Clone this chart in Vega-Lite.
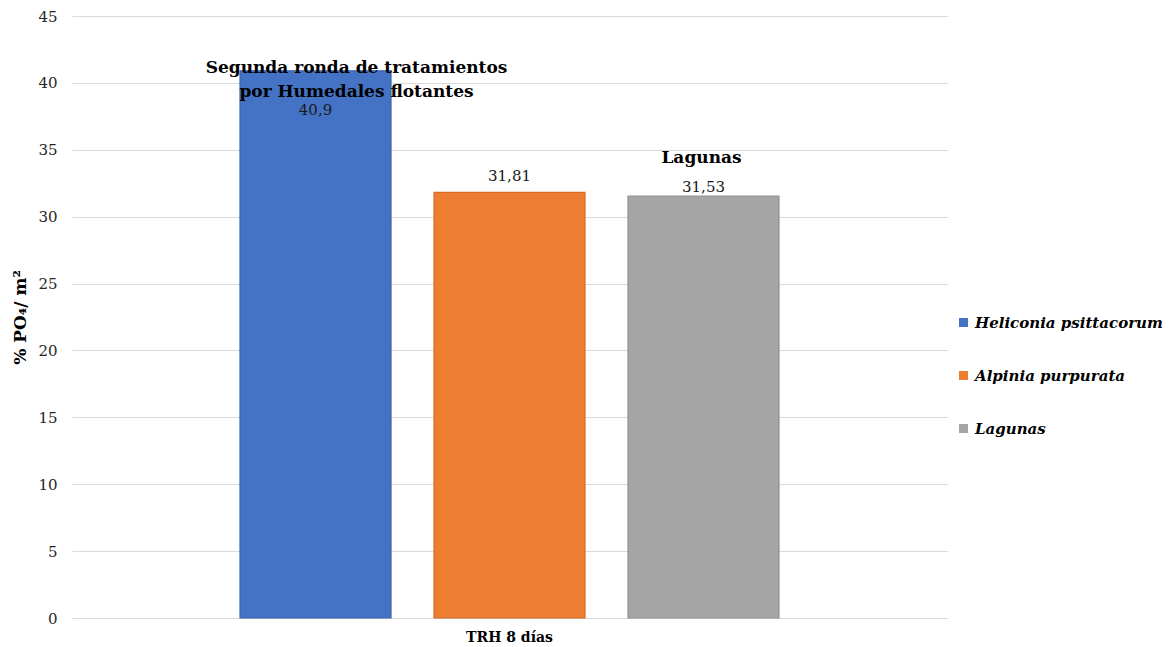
{
  "$schema": "https://vega.github.io/schema/vega-lite/v6.json",
  "width": 875,
  "height": 602,
  "autosize": {"type": "none"},
  "padding": {"left": 72, "top": 16, "right": 222, "bottom": 29},
  "background": "white",
  "config": {
    "font": "DejaVu Serif",
    "view": {"stroke": null},
    "locale": {"number": {"decimal": ",", "thousands": ".", "grouping": [3], "currency": ["", " €"]}}
  },
  "data": {
    "values": [
      {"trh": "TRH 8 días", "serie": "Heliconia psittacorum", "valor": 40.9, "nota": ["Segunda ronda de tratamientos", "por Humedales flotantes"]},
      {"trh": "TRH 8 días", "serie": "Alpinia purpurata", "valor": 31.81, "nota": null},
      {"trh": "TRH 8 días", "serie": "Lagunas", "valor": 31.53, "nota": "Lagunas"}
    ]
  },
  "encoding": {
    "x": {
      "field": "trh",
      "type": "nominal",
      "title": null,
      "scale": {"paddingInner": 0, "paddingOuter": 0},
      "axis": {
        "labelAngle": 0,
        "labelFont": "DejaVu Serif",
        "labelFontSize": 14,
        "labelFontWeight": "bold",
        "labelColor": "#000000",
        "labelPadding": 12,
        "ticks": false,
        "domainColor": "#d9d9d9"
      }
    },
    "xOffset": {
      "field": "serie",
      "type": "nominal",
      "sort": ["Heliconia psittacorum", "Alpinia purpurata", "Lagunas"],
      "scale": {"paddingInner": 0.2216, "paddingOuter": 0.866}
    },
    "y": {
      "field": "valor",
      "type": "quantitative",
      "title": "% PO₄/ m²",
      "scale": {"domain": [0, 45], "nice": false},
      "axis": {
        "values": [0, 5, 10, 15, 20, 25, 30, 35, 40, 45],
        "domain": false,
        "ticks": false,
        "gridColor": "#d9d9d9",
        "labelFont": "DejaVu Serif",
        "labelFontSize": 15,
        "labelColor": "#262626",
        "labelPadding": 15,
        "titleFont": "DejaVu Serif",
        "titleFontSize": 17,
        "titleFontWeight": "bold",
        "titleColor": "#000000",
        "titlePadding": 8
      }
    }
  },
  "layer": [
    {
      "mark": {"type": "bar", "strokeWidth": 1.2},
      "encoding": {
        "color": {
          "field": "serie",
          "type": "nominal",
          "sort": ["Heliconia psittacorum", "Alpinia purpurata", "Lagunas"],
          "scale": {
            "domain": ["Heliconia psittacorum", "Alpinia purpurata", "Lagunas"],
            "range": ["#4472C4", "#ED7D31", "#A5A5A5"]
          },
          "legend": {
            "title": null,
            "orient": "none",
            "legendX": 884,
            "legendY": 299,
            "symbolType": "square",
            "symbolSize": 81,
            "symbolStrokeWidth": 0,
            "labelFont": "DejaVu Serif",
            "labelFontSize": 15,
            "labelFontStyle": "italic",
            "labelFontWeight": "bold",
            "labelColor": "#000000",
            "labelOffset": 4,
            "labelLimit": 300,
            "rowPadding": 37
          }
        },
        "stroke": {
          "field": "serie",
          "type": "nominal",
          "scale": {
            "domain": ["Heliconia psittacorum", "Alpinia purpurata", "Lagunas"],
            "range": ["#3a64b0", "#d86c26", "#929292"]
          },
          "legend": null
        }
      }
    },
    {
      "transform": [{"filter": "datum.serie === 'Heliconia psittacorum'"}],
      "mark": {"type": "text", "font": "DejaVu Serif", "fontSize": 15, "color": "#1a1a1a", "baseline": "middle", "dy": 39},
      "encoding": {"text": {"field": "valor", "type": "quantitative", "format": "~g"}}
    },
    {
      "transform": [{"filter": "datum.serie === 'Alpinia purpurata'"}],
      "mark": {"type": "text", "font": "DejaVu Serif", "fontSize": 15, "color": "#1a1a1a", "baseline": "middle", "dy": -16},
      "encoding": {"text": {"field": "valor", "type": "quantitative", "format": "~g"}}
    },
    {
      "transform": [{"filter": "datum.serie === 'Lagunas'"}],
      "mark": {"type": "text", "font": "DejaVu Serif", "fontSize": 15, "color": "#1a1a1a", "baseline": "middle", "dy": -9},
      "encoding": {"text": {"field": "valor", "type": "quantitative", "format": "~g"}}
    },
    {
      "transform": [{"filter": "datum.serie === 'Heliconia psittacorum'"}],
      "mark": {"type": "text", "font": "DejaVu Serif", "fontSize": 17, "fontWeight": "bold", "color": "#000000", "baseline": "middle", "dx": 41, "dy": -3, "lineHeight": 24},
      "encoding": {"text": {"field": "nota"}}
    },
    {
      "transform": [{"filter": "datum.serie === 'Lagunas'"}],
      "mark": {"type": "text", "font": "DejaVu Serif", "fontSize": 17, "fontWeight": "bold", "color": "#000000", "baseline": "middle", "dx": -2, "dy": -38},
      "encoding": {"text": {"field": "nota"}}
    }
  ]
}
